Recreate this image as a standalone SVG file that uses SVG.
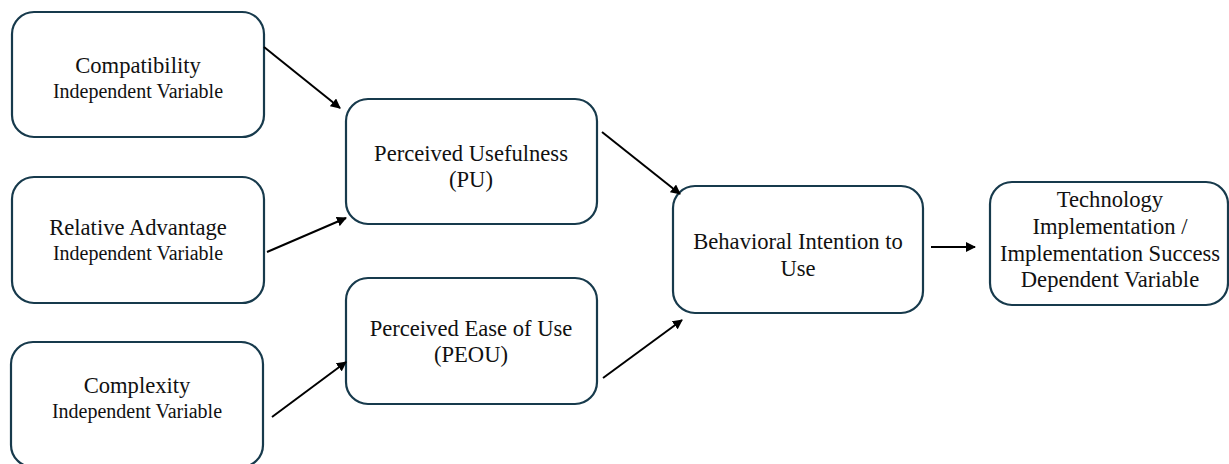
<svg xmlns="http://www.w3.org/2000/svg" width="1229" height="464" viewBox="0 0 1229 464" font-family="Liberation Serif, DejaVu Serif, serif">
<style>
.box{fill:#ffffff;stroke:#173a4c;stroke-width:2.2}
.t{font-size:22.6px;fill:#111;text-anchor:middle}
.s{font-size:20px;fill:#111;text-anchor:middle}
.c{stroke:#000;stroke-width:2;fill:none;marker-end:url(#ah)}
</style>
<defs>
<marker id="ah" viewBox="0 0 10 10" refX="9" refY="5" markerWidth="5" markerHeight="5" orient="auto" markerUnits="strokeWidth">
<path d="M0,0 L10,5 L0,10 z" fill="#000"/>
</marker>
</defs>
<rect x="0" y="0" width="1229" height="464" fill="#ffffff"/>
<g id="compatibility">
<rect class="box" x="12" y="12" width="252" height="125" rx="22"/>
<text class="t" x="138" y="73">Compatibility</text>
<text class="s" x="138" y="98">Independent Variable</text>
</g>
<g id="relative-advantage">
<rect class="box" x="12" y="177" width="252" height="126" rx="22"/>
<text class="t" x="138" y="235">Relative Advantage</text>
<text class="s" x="138" y="260">Independent Variable</text>
</g>
<g id="complexity">
<rect class="box" x="11" y="342" width="252" height="125" rx="22"/>
<text class="t" x="137" y="393">Complexity</text>
<text class="s" x="137" y="418">Independent Variable</text>
</g>
<g id="pu">
<rect class="box" x="346" y="99" width="251" height="125" rx="22"/>
<text class="t" x="471" y="161">Perceived Usefulness</text>
<text class="t" x="471" y="187">(PU)</text>
</g>
<g id="peou">
<rect class="box" x="346" y="278" width="251" height="126" rx="22"/>
<text class="t" x="471" y="336">Perceived Ease of Use</text>
<text class="t" x="471" y="362">(PEOU)</text>
</g>
<g id="intention">
<rect class="box" x="673" y="186" width="250" height="127" rx="22"/>
<text class="t" x="798" y="249">Behavioral Intention to</text>
<text class="t" x="798" y="276">Use</text>
</g>
<g id="implementation">
<rect class="box" x="990" y="182" width="238" height="123" rx="22"/>
<text class="t" x="1110" y="207">Technology</text>
<text class="t" x="1110" y="234">Implementation /</text>
<text class="t" x="1110" y="261">Implementation Success</text>
<text class="t" x="1110" y="287">Dependent Variable</text>
</g>
<g id="connectors">
<line class="c" x1="264" y1="47" x2="340" y2="108"/>
<line class="c" x1="267" y1="252" x2="346" y2="218"/>
<line class="c" x1="272" y1="417" x2="346" y2="362"/>
<line class="c" x1="602" y1="132" x2="680" y2="194"/>
<line class="c" x1="603" y1="378" x2="682" y2="320"/>
<line class="c" x1="931" y1="247" x2="975" y2="247"/>
</g>
</svg>
